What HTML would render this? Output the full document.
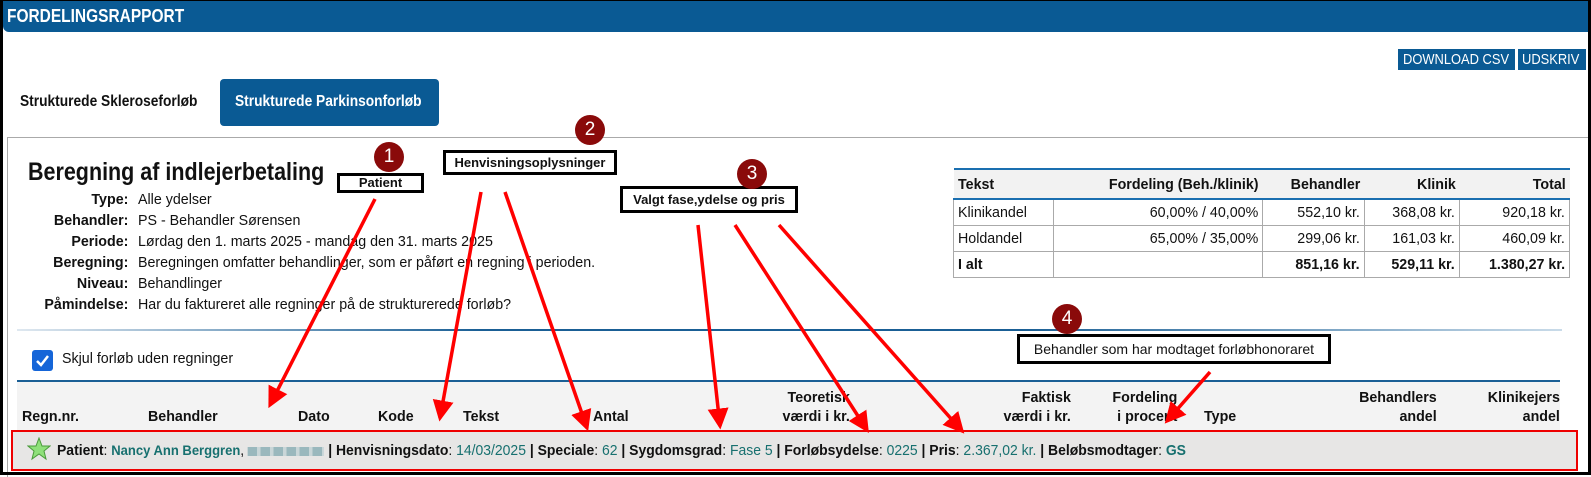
<!DOCTYPE html>
<html><head><meta charset="utf-8"><style>
*{margin:0;padding:0;box-sizing:border-box}
body{width:1591px;height:475px;position:relative;overflow:hidden;background:#fff;font-family:"Liberation Sans Narrow","Liberation Sans",sans-serif;color:#111}
.a{position:absolute;white-space:nowrap}
.n{transform:scaleX(.95);transform-origin:left center}
.r{transform:scaleX(.95);transform-origin:right center;text-align:right}
.k{transform:scaleX(.86);transform-origin:left center}
.b{font-weight:bold}
.t{color:#17706f}
.box{position:absolute;border:3px solid #000;background:#fff;font-family:"Liberation Sans",sans-serif;font-weight:bold;font-size:13px;text-align:center;color:#111}
.circ{position:absolute;width:30px;height:30px;border-radius:50%;background:#8a0a0a;color:#fff;font-family:"Liberation Sans",sans-serif;font-size:19px;text-align:center;line-height:30px}
td{border:1px solid #aaa;font-size:15px;padding:0 4px;height:26px}
td span{display:inline-block;transform:scaleX(.95);transform-origin:right}
</style></head><body>
<!-- header -->
<div class="a" style="left:3px;top:0;width:1588px;height:32px;background:#0a5a94;border-bottom-left-radius:6px"></div>
<div class="a k b" style="left:7px;top:6px;font-size:18px;color:#fff">FORDELINGSRAPPORT</div>
<div class="a" style="left:1398px;top:49px;width:117px;height:21px;background:#0a5a94"></div>
<div class="a k" style="left:1403px;top:51px;font-size:15px;color:#fff">DOWNLOAD CSV</div>
<div class="a" style="left:1518px;top:49px;width:68px;height:21px;background:#0a5a94"></div>
<div class="a k" style="left:1522px;top:51px;font-size:15px;color:#fff">UDSKRIV</div>
<!-- tabs -->
<div class="a k b" style="left:20px;top:93px;font-size:16px">Strukturede Skleroseforløb</div>
<div class="a" style="left:220px;top:79px;width:219px;height:47px;background:#0a5a94;border-radius:4px"></div>
<div class="a k b" style="left:235px;top:93px;font-size:16px;color:#fff">Strukturede Parkinsonforløb</div>
<!-- panel -->
<div class="a" style="left:7px;top:137px;width:1584px;height:340px;border-top:1px solid #aaa;border-left:1px solid #aaa"></div>
<div class="a b" style="left:28px;top:158px;font-size:25px;transform:scaleX(.86);transform-origin:left">Beregning af indlejerbetaling</div>
<div class="a r b" style="right:1463px;top:189px;font-size:15px;line-height:21px">Type:<br>Behandler:<br>Periode:<br>Beregning:<br>Niveau:<br>Påmindelse:</div>
<div class="a n" style="left:138px;top:189px;font-size:15px;line-height:21px">Alle ydelser<br>PS - Behandler Sørensen<br>Lørdag den 1. marts 2025 - mandag den 31. marts 2025<br>Beregningen omfatter behandlinger, som er påført en regning i perioden.<br>Behandlinger<br>Har du faktureret alle regninger på de strukturerede forløb?</div>
<!-- summary table -->
<table class="a" style="left:953px;top:168px;width:617px;border-collapse:collapse;font-family:inherit">
<tr style="background:#f2f2f2" class="b"><td style="border:none;border-top:2px solid #1a6fb0;border-bottom:2px solid #1a6fb0;height:30px;width:100px"><span style="transform-origin:left">Tekst</span></td><td style="border:none;border-top:2px solid #1a6fb0;border-bottom:2px solid #1a6fb0;text-align:right;width:209px"><span>Fordeling (Beh./klinik)</span></td><td style="border:none;border-top:2px solid #1a6fb0;border-bottom:2px solid #1a6fb0;text-align:right;width:102px"><span>Behandler</span></td><td style="border:none;border-top:2px solid #1a6fb0;border-bottom:2px solid #1a6fb0;text-align:right;width:95px"><span>Klinik</span></td><td style="border:none;border-top:2px solid #1a6fb0;border-bottom:2px solid #1a6fb0;text-align:right"><span>Total</span></td></tr>
<tr><td><span style="transform-origin:left">Klinikandel</span></td><td style="text-align:right"><span>60,00% / 40,00%</span></td><td style="text-align:right"><span>552,10 kr.</span></td><td style="text-align:right"><span>368,08 kr.</span></td><td style="text-align:right"><span>920,18 kr.</span></td></tr>
<tr><td><span style="transform-origin:left">Holdandel</span></td><td style="text-align:right"><span>65,00% / 35,00%</span></td><td style="text-align:right"><span>299,06 kr.</span></td><td style="text-align:right"><span>161,03 kr.</span></td><td style="text-align:right"><span>460,09 kr.</span></td></tr>
<tr class="b"><td><span style="transform-origin:left">I alt</span></td><td></td><td style="text-align:right"><span>851,16 kr.</span></td><td style="text-align:right"><span>529,11 kr.</span></td><td style="text-align:right"><span>1.380,27 kr.</span></td></tr>
</table>
<!-- blue separator -->
<div class="a" style="left:17px;top:329px;width:1545px;height:2px;background:linear-gradient(90deg,#dfe8f0,#1a5f95 30%,#1a5f95 65%,#c9dbe9)"></div>
<!-- checkbox -->
<div class="a" style="left:32px;top:350px;width:21px;height:21px;background:#1565d8;border-radius:3px"></div>
<svg class="a" style="left:32px;top:350px" width="21" height="21"><path d="M5 11 L9 15 L16 6" stroke="#fff" stroke-width="2.5" fill="none"/></svg>
<div class="a n" style="left:62px;top:350px;font-size:15px">Skjul forløb uden regninger</div>
<!-- grid header -->
<div class="a" style="left:17px;top:380px;width:1543px;height:50px;background:#f3f3f3;border-top:2px solid #1a5f95"></div>
<div class="a n b" style="left:22px;top:408px;font-size:15px">Regn.nr.</div>
<div class="a n b" style="left:148px;top:408px;font-size:15px">Behandler</div>
<div class="a n b" style="left:298px;top:408px;font-size:15px">Dato</div>
<div class="a n b" style="left:378px;top:408px;font-size:15px">Kode</div>
<div class="a n b" style="left:463px;top:408px;font-size:15px">Tekst</div>
<div class="a n b" style="left:593px;top:408px;font-size:15px">Antal</div>
<div class="a r b" style="right:741px;top:388px;font-size:15px;line-height:19px">Teoretisk<br>værdi i kr.</div>
<div class="a r b" style="right:520px;top:388px;font-size:15px;line-height:19px">Faktisk<br>værdi i kr.</div>
<div class="a r b" style="right:414px;top:388px;font-size:15px;line-height:19px">Fordeling<br>i procent</div>
<div class="a n b" style="left:1204px;top:408px;font-size:15px">Type</div>
<div class="a r b" style="right:154px;top:388px;font-size:15px;line-height:19px">Behandlers<br>andel</div>
<div class="a r b" style="right:31px;top:388px;font-size:15px;line-height:19px">Klinikejers<br>andel</div>
<!-- patient row -->
<div class="a" style="left:11px;top:430px;width:1567px;height:41px;background:#e7e6e5;border:2px solid #e00"></div>
<svg class="a" style="left:27px;top:437px" width="24" height="24"><polygon points="12,1 15,9 23,9 17,14 19,22 12,17 5,22 7,14 1,9 9,9" fill="#8fe07a" stroke="#4a9a3a" stroke-width="1"/></svg>
<div class="a" style="left:57px;top:442px;font-size:15px;transform:scaleX(.93);transform-origin:left"><b>Patient</b>: <b class="t" style="font-size:14px">Nancy Ann Berggren</b>, <span style="display:inline-block;width:82px;height:9px;vertical-align:middle;background:repeating-linear-gradient(90deg,#9ab8bd 0 10px,#c9d6d8 10px 14px)"></span> <b>| Henvisningsdato</b>: <span class="t">14/03/2025</span> <b>| Speciale</b>: <span class="t">62</span> <b>| Sygdomsgrad</b>: <span class="t">Fase 5</span> <b>| Forløbsydelse</b>: <span class="t">0225</span> <b>| Pris</b>: <span class="t">2.367,02 kr.</span> <b>| Beløbsmodtager</b>: <b class="t">GS</b></div>
<!-- annotations -->
<div class="box" style="left:337px;top:173px;width:87px;height:20px;line-height:14px">Patient</div>
<div class="box" style="left:443px;top:150px;width:174px;height:25px;line-height:19px">Henvisningsoplysninger</div>
<div class="box" style="left:620px;top:186px;width:178px;height:27px;line-height:21px">Valgt fase,ydelse og pris</div>
<div class="box" style="left:1017px;top:334px;width:314px;height:30px;line-height:24px;font-weight:normal;font-size:14px">Behandler som har modtaget forløbhonoraret</div>
<div class="circ" style="left:374px;top:142px">1</div>
<div class="circ" style="left:575px;top:115px">2</div>
<div class="circ" style="left:737px;top:159px">3</div>
<div class="circ" style="left:1052px;top:304px">4</div>
<svg class="a" style="left:0;top:0" width="1591" height="475">
<defs><marker id="m" markerWidth="6" markerHeight="6" refX="5" refY="3" orient="auto" markerUnits="strokeWidth"><path d="M0,0 L6,3 L0,6 z" fill="#f00"/></marker></defs>
<g stroke="#f00" stroke-width="3.5" fill="none" marker-end="url(#m)">
<line x1="375" y1="199" x2="270" y2="405"/>
<line x1="481" y1="192" x2="440" y2="418"/>
<line x1="505" y1="192" x2="587" y2="428"/>
<line x1="698" y1="225" x2="720" y2="426"/>
<line x1="735" y1="225" x2="867" y2="430"/>
<line x1="779" y1="225" x2="962" y2="431"/>
<line x1="1210" y1="372" x2="1167" y2="421"/>
</g></svg>
<!-- outer border -->
<div class="a" style="left:0;top:0;width:1591px;height:475px;border:3px solid #000;border-top-width:1px"></div>
</body></html>
